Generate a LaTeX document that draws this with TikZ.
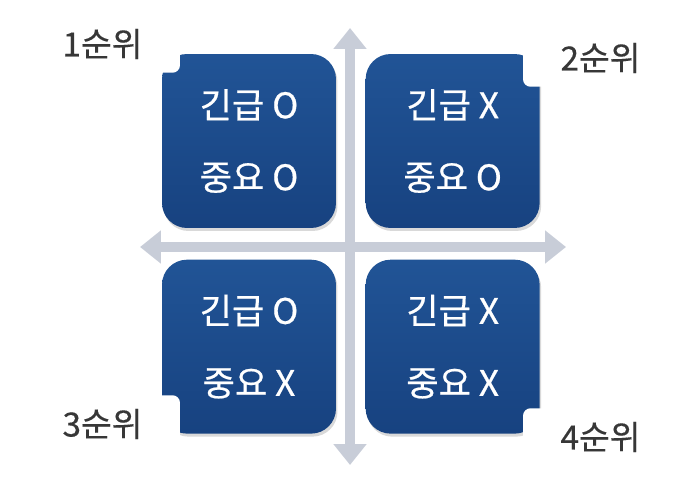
\documentclass[tikz,border=0pt]{standalone}
\usepackage{fontspec}
\newfontfamily\krfont[FakeBold=0.6]{Noto Sans CJK KR}
\newfontfamily\krrank[FakeBold=0.3]{Noto Sans CJK KR}
\usetikzlibrary{arrows.meta,positioning,shadows}
\definecolor{boxtop}{RGB}{33,84,150}
\definecolor{boxbot}{RGB}{23,66,128}
\definecolor{axisgray}{RGB}{200,205,216}
\definecolor{rankgray}{RGB}{55,55,55}

\begin{document}
\begin{tikzpicture}[x=0.02cm, y=-0.02cm,
  quad/.style={rectangle, rounded corners=0.5cm, top color=boxtop, bottom color=boxbot,
               minimum width=3.48cm, minimum height=3.48cm, align=center, text=white,
               font=\krfont\fontsize{20}{41}\selectfont,
               drop shadow={shadow xshift=0.03cm, shadow yshift=-0.06cm, opacity=0.3}},
  rank/.style={rectangle, rounded corners=0.15cm, fill=white,
               minimum width=3.1cm, minimum height=1.15cm, text=rankgray,
               font=\krrank\fontsize{19}{22}\selectfont},
  axis/.style={{Triangle[width=0.64cm,length=0.42cm]}-{Triangle[width=0.64cm,length=0.42cm]},
               line width=0.2cm, draw=axisgray}
]
\useasboundingbox (0,0) rectangle (685,503);

%% axes
\coordinate (top) at (350,28);
\coordinate (bot) at (350,465);
\coordinate (lft) at (140,247);
\coordinate (rgt) at (566,247);
\draw[axis] (top) -- (bot);
\draw[axis] (lft) -- (rgt);

%% quadrants
\node[quad] (q1) at (249,141) {긴급 O\\중요 O};
\node[quad, right=0.58cm of q1] (q2) {긴급 X\\중요 O};
\node[quad, below=0.62cm of q1] (q3) {긴급 O\\중요 X};
\node[quad, right=0.58cm of q3] (q4) {긴급 X\\중요 X};

%% ranks
\node[rank] (r1) at (102.5,44) {1순위};
\node[rank] (r2) at (600.5,58) {2순위};
\node[rank] (r3) at (102.5,424) {3순위};
\node[rank] (r4) at (600.5,437) {4순위};

\end{tikzpicture}
\end{document}
